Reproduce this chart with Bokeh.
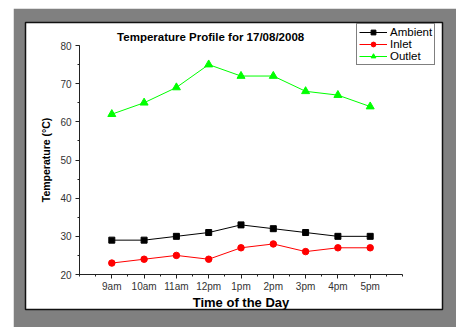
from bokeh.plotting import figure
from bokeh.models import (Label, Legend, LegendItem, FixedTicker, Range1d,
                          LinearAxis)
from bokeh.embed import file_html
from bokeh.resources import INLINE

times = ["9am", "10am", "11am", "12pm", "1pm", "2pm", "3pm", "4pm", "5pm"]
ambient = [29, 29, 30, 31, 33, 32, 31, 30, 30]
inlet = [23, 24, 25, 24, 27, 28, 26, 27, 27]
outlet = [62, 65, 69, 75, 72, 72, 68, 67, 64]
y_ticks = [20, 30, 40, 50, 60, 70, 80]

xs = list(range(1, len(times) + 1))
FONT = "Liberation Sans"

# axes box: x 0..10 -> px 79..402, y 20..80 -> px 274..45
# frame (white panel) spans px 25..442 x 22..309
XPX = 323 / 10.0
YPX = 229 / 60.0
x0 = 0 - (79 - 25) / XPX
x1 = 10 + (442 - 402) / XPX
y1 = 80 + (45 - 22) / YPX
y0 = 20 - (309 - 274) / YPX

p = figure(width=443, height=319, margin=(8, 0, 0, 13),
           output_backend="svg", toolbar_location=None,
           x_range=Range1d(x0, x1), y_range=Range1d(y0, y1),
           x_axis_type=None, y_axis_type=None,
           min_border_left=12, min_border_right=14,
           min_border_top=14, min_border_bottom=18)
p.border_fill_color = "#808080"
p.background_fill_color = "white"
p.outline_line_color = "#111111"
p.outline_line_width = 1.5
p.grid.visible = False

la = p.line(xs, ambient, line_color="black", line_width=1)
ma = p.scatter(xs, ambient, marker="square", size=6, color="black")
li = p.line(xs, inlet, line_color="red", line_width=1)
mi = p.scatter(xs, inlet, marker="circle", size=6.5, color="red")
lo = p.line(xs, outlet, line_color="#00ff00", line_width=1)
mo = p.scatter(xs, outlet, marker="triangle", size=8, color="#00ff00")

xaxis = LinearAxis(fixed_location=20, bounds=(0, 10),
                   ticker=FixedTicker(ticks=xs, minor_ticks=[x / 2 for x in range(0, 21)]),
                   major_label_overrides={x: t for x, t in zip(xs, times)},
                   axis_label="Time of the Day")
yaxis = LinearAxis(fixed_location=0, bounds=(20, 80),
                   ticker=FixedTicker(ticks=y_ticks, minor_ticks=list(range(20, 81, 5))),
                   axis_label="Temperature (°C)")
for ax in (xaxis, yaxis):
    ax.axis_line_color = "#222222"
    ax.major_tick_line_color = "#222222"
    ax.minor_tick_line_color = "#222222"
    ax.major_tick_out = 4
    ax.major_tick_in = 0
    ax.minor_tick_out = 2
    ax.minor_tick_in = 0
    ax.major_label_text_font = FONT
    ax.major_label_text_font_size = "10px"
    ax.major_label_text_color = "#333333"
    ax.axis_label_text_font = FONT
    ax.axis_label_text_font_style = "bold"
    ax.axis_label_text_color = "black"
yaxis.major_label_standoff = 4
xaxis.major_label_standoff = 2
xaxis.axis_label_text_font_size = "13px"
xaxis.axis_label_standoff = 0
yaxis.axis_label_text_font_size = "10.5px"
yaxis.axis_label_standoff = 5
p.add_layout(xaxis, "below")
p.add_layout(yaxis, "left")

p.add_layout(Label(x=4.06, y=82.1, text="Temperature Profile for 17/08/2008",
                   text_font=FONT, text_font_style="bold",
                   text_font_size="11.5px", text_align="center",
                   text_baseline="middle", text_color="black"))

legend = Legend(items=[
    LegendItem(label="Ambient", renderers=[la, ma]),
    LegendItem(label="Inlet", renderers=[li, mi]),
    LegendItem(label="Outlet", renderers=[lo, mo]),
], location=(331, 244))
legend.border_line_color = "black"
legend.border_line_width = 1
legend.background_fill_color = "white"
legend.background_fill_alpha = 1
legend.label_text_font = FONT
legend.label_text_font_size = "11.5px"
legend.label_text_color = "black"
legend.glyph_width = 28
legend.glyph_height = 12
legend.label_height = 12
legend.spacing = 0
legend.padding = 2
legend.margin = 0
legend.label_standoff = 3
legend.label_text_line_height = 1.0
p.add_layout(legend, "center")

open("out.html", "w").write(file_html(p, INLINE))
